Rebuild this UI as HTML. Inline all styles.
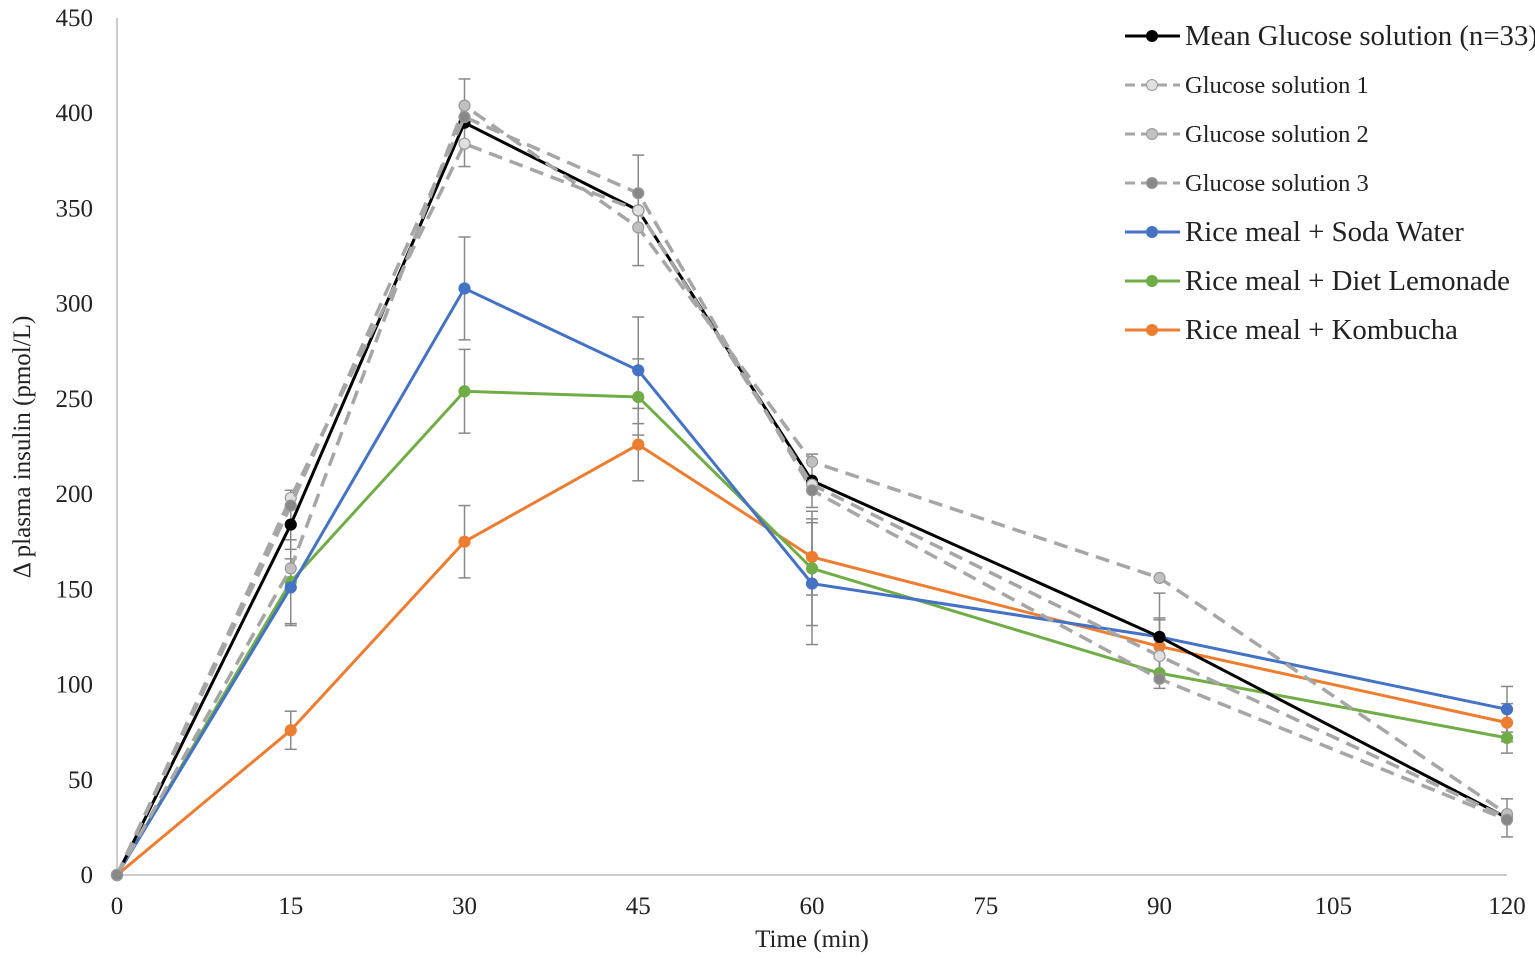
<!DOCTYPE html>
<html><head><meta charset="utf-8"><style>
body{margin:0;background:#fff}
svg text{font-family:"Liberation Serif",serif;fill:#222}
</style></head><body>
<svg id="c" width="1535" height="961" viewBox="0 0 1535 961" xmlns="http://www.w3.org/2000/svg"></svg>
<script>
const times=[0,15,30,45,60,90,120];
const xTicks=[0,15,30,45,60,75,90,105,120];
const yTicks=[0,50,100,150,200,250,300,350,400,450];
const meanVals=[0,184,395,349,207,125,30];
const meanErr=[0,18,23,29,14,10,10];
const g1Vals=[0,198,384,349,205,115,30];
const g2Vals=[0,161,404,340,217,156,32];
const g3Vals=[0,194,398,358,202,103,29];
const sodaVals=[0,151,308,265,153,125,87];
const sodaErr=[0,20,27,28,32,23,12];
const lemVals=[0,154,254,251,161,106,72];
const lemErr=[0,22,22,20,30,8,8];
const komVals=[0,76,175,226,167,120,80];
const komErr=[0,10,19,19,20,14,10];
const names=["Mean Glucose solution (n=33)","Glucose solution 1","Glucose solution 2","Glucose solution 3","Rice meal + Soda Water","Rice meal + Diet Lemonade","Rice meal + Kombucha"];

const svg=document.getElementById('c');const NS="http://www.w3.org/2000/svg";
const X=v=>117+v*(1390/120), Y=v=>875-v*(857/450);
function el(t,a,p){const e=document.createElementNS(NS,t);for(const k in a)e.setAttribute(k,a[k]);(p||svg).appendChild(e);return e;}
let ax=el('line',{x1:117,y1:18,x2:117,y2:875,stroke:'#bbb','stroke-width':1.5});


let bx=el('line',{x1:117,y1:875,x2:1507,y2:875,stroke:'#bbb','stroke-width':1.5});


yTicks.forEach(v=>{const t=el('text',{x:93,y:Y(v)+8,'text-anchor':'end','font-size':25});t.textContent=v;

});
xTicks.forEach(v=>{const t=el('text',{x:X(v),y:914,'text-anchor':'middle','font-size':25});t.textContent=v;

});
let xt=el('text',{x:812,y:947,'text-anchor':'middle','font-size':25});xt.textContent='Time (min)';


let yt=el('text',{x:0,y:0,'text-anchor':'middle','font-size':25,transform:'translate(30,447) rotate(-90)'});yt.textContent='Δ plasma insulin (pmol/L)';


function errs(vals,er){const g=el('g',{stroke:'#888','stroke-width':1.5});


vals.forEach((v,i)=>{if(!er[i])return;const x=X(times[i]);el('line',{x1:x,x2:x,y1:Y(v+er[i]),y2:Y(v-er[i])},g);
el('line',{x1:x-6,x2:x+6,y1:Y(v+er[i]),y2:Y(v+er[i])},g);el('line',{x1:x-6,x2:x+6,y1:Y(v-er[i]),y2:Y(v-er[i])},g);});}
errs(meanVals,meanErr);errs(sodaVals,sodaErr);errs(lemVals,lemErr);errs(komVals,komErr);
function series(name,vals,col,fill,dash,w){const g=el('g',{});


el('polyline',{points:vals.map((v,i)=>X(times[i])+','+Y(v)).join(' '),fill:'none',stroke:col,'stroke-width':w,'stroke-dasharray':dash||'none'},g);
vals.forEach((v,i)=>el('circle',{cx:X(times[i]),cy:Y(v),r:5.5,fill:fill,stroke:dash?'#999':fill,'stroke-width':1.2},g));}
series('series-kombucha',komVals,'#ed7d31','#ed7d31','',3);
series('series-diet-lemonade',lemVals,'#70ad47','#70ad47','',3);
series('series-soda-water',sodaVals,'#4472c4','#4472c4','',3);
series('series-mean-glucose',meanVals,'#000','#000','',3);
series('series-glucose-1',g1Vals,'#a6a6a6','#e0e0e0','14,8',3.5);
series('series-glucose-2',g2Vals,'#a6a6a6','#c0c0c0','14,8',3.5);
series('series-glucose-3',g3Vals,'#a6a6a6','#888','14,8',3.5);
const lc=[['#000','#000','',3],['#a6a6a6','#e0e0e0','10,6',3],['#a6a6a6','#c0c0c0','10,6',3],['#a6a6a6','#888','10,6',3],['#4472c4','#4472c4','',3],['#70ad47','#70ad47','',3],['#ed7d31','#ed7d31','',3]];
const lg=el('g',{});


names.forEach((n,i)=>{const y=36+i*49;const g=el('g',{},lg);


el('line',{x1:1125,x2:1180,y1:y,y2:y,stroke:lc[i][0],'stroke-width':lc[i][3],'stroke-dasharray':lc[i][2]||'none'},g);
el('circle',{cx:1152,cy:y,r:5.5,fill:lc[i][1],stroke:lc[i][2]?'#999':lc[i][1]},g);
const small=i>=1&&i<=3;const t=el('text',{x:1185,y:y+(small?8:9),'font-size':small?24.5:28.8},g);t.textContent=n;});
</script>
</body></html>
